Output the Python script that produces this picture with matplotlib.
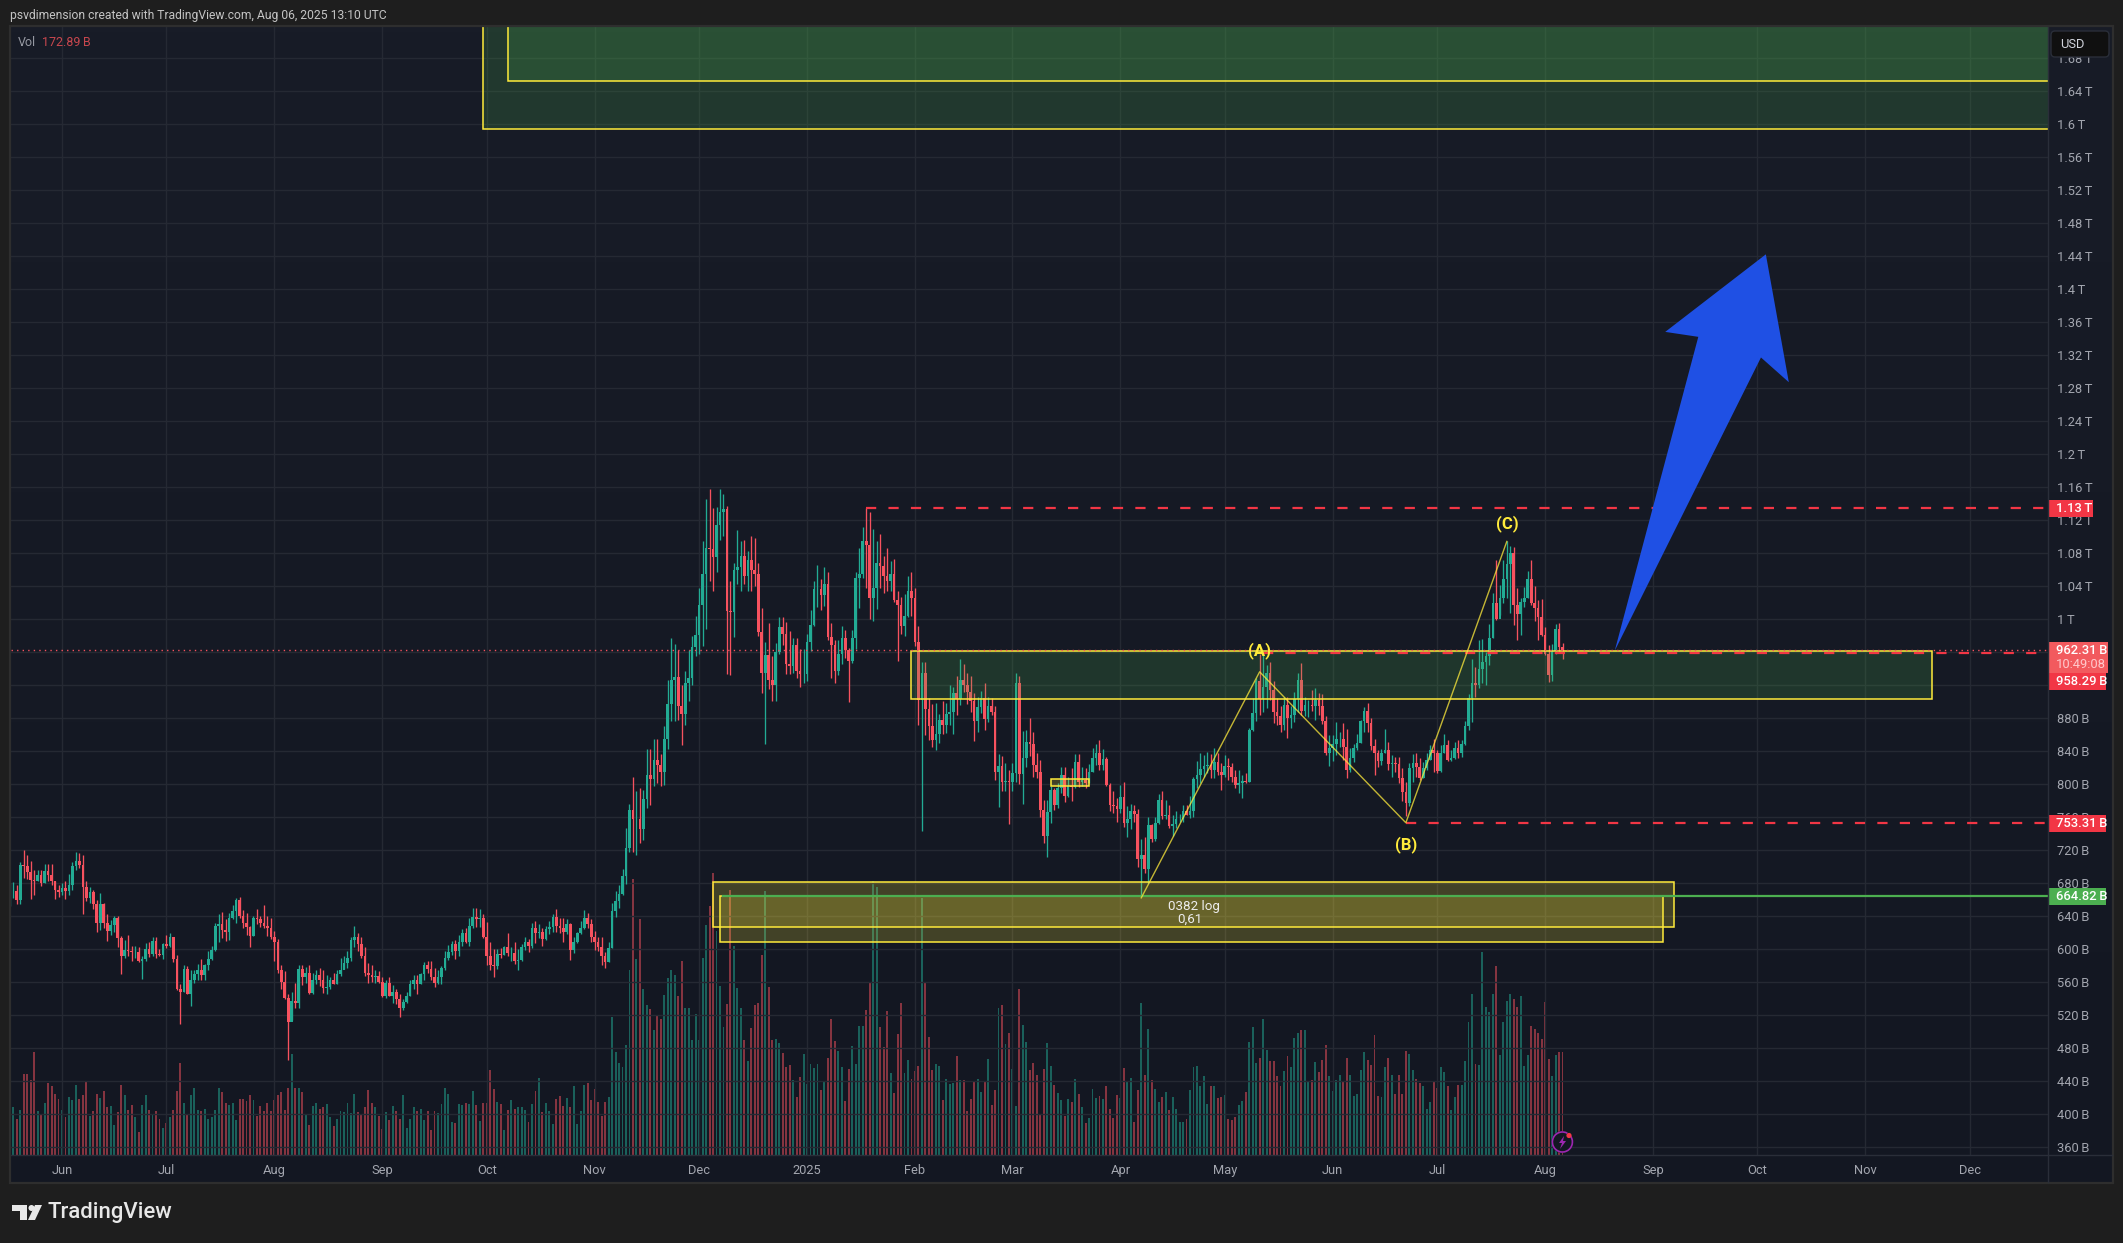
import numpy as np
import matplotlib
matplotlib.use('Agg')
import matplotlib.pyplot as plt
from matplotlib.patches import Rectangle, Polygon, Circle, FancyBboxPatch, Arc

""" ****** Data read from the chart, values in billions USD **** """

closes_1 = [670,670,659,702,701,693,684,682,690,680,
            695,690,683,672,669,674,670,678,700,707,
            702,675,662,669,654,631,654,632,622,629,
            637,613,592,599,597,596,596,586,588,600,
            594,610,594,593,606,604,614,588,551,548,
            576,546,563,570,574,568,580,588,599,628,
            630,623,621,638,646,659,640,631,627,616,
            637,636,632,628,626,614,608,575,560,541,
            511,537,535,576,566,571,547,563,568,562,
            553,554,562,558,570,575,583,589,611,615,
            606,591,571,569,566,567,560,543,559,543,
            548,539,528,536,543,558,563,558,570,580,
            576,566,559,566,577,589,596,606,598,608,
            619,609,628,639,636,638,615,592,581,579,
            594,593,603,595,595,586,587,602,608,604]
highs_1 = [680,681,678,705,720,714,707,696,696,696,
           703,703,703,682,677,680,682,691,705,718,
           716,714,683,675,672,659,668,656,643,635,
           640,640,616,611,617,604,604,603,592,607,
           608,615,615,600,607,617,619,615,593,558,
           581,579,575,575,582,588,582,597,604,631,
           642,645,636,644,653,662,663,647,644,628,
           640,649,640,653,640,638,622,612,581,573,
           546,548,559,581,581,578,581,571,574,577,
           575,569,566,571,575,589,591,597,615,628,
           619,615,603,583,581,574,573,566,562,566,
           556,551,546,539,548,563,568,568,571,584,
           586,585,577,575,579,597,605,610,611,617,
           624,625,638,650,650,649,643,633,608,600,
           600,601,604,619,603,609,600,606,614,612]
lows_1 = [652,662,654,654,686,685,660,665,682,676,
          680,682,678,661,663,666,661,665,672,696,
          698,643,658,656,648,621,623,625,610,617,
          621,603,570,589,591,586,589,584,564,586,
          590,591,589,592,588,601,603,584,550,509,
          548,545,531,559,563,563,562,575,587,597,
          608,613,610,611,636,632,638,625,617,602,
          616,630,627,625,616,612,586,571,552,539,
          465,514,529,529,556,559,546,545,558,555,
          547,545,551,557,557,567,576,577,586,602,
          597,589,567,559,560,559,559,542,541,543,
          534,533,517,526,534,543,551,546,557,563,
          571,563,554,557,557,575,587,593,588,592,
          604,607,604,626,627,627,613,581,575,566,
          576,589,593,591,586,582,575,585,599,596]

closes_2 = [625,619,620,612,624,627,639,628,626,620,
            630,599,609,619,626,638,630,614,608,603,
            592,584,601,646,658,667,689,722,768,757,
            757,745,782,811,806,829,823,814,855,897,
            926,930,894,885,922,928,966,980,1017,1054,
            1086,1085,1075,1114,1130,1133,1010,1009,1059,1063,
            1076,1052,1072,1059,1054,984,935,956,926,920,
            960,990,982,945,943,968,937,933,933,972,
            993,1036,1036,1029,1042,978,968,937,958,977,
            962,949,977,1050,1055,1094,1090,1026,1037,1068,
            1064,1052,1046,1054,1023,1017,991,1004,1034,1025,
            972,902,934,891,870,853,861,877,872,885,
            887,910,903,926,920,911,900,876,893,904,
            879,894,887,814,822,803,804,803,813,922,
            812,832,851,848,823,815,768,737,766]
highs_2 = [631,634,630,625,628,634,643,648,638,638,
           636,631,615,620,634,647,644,636,622,615,
           615,596,609,656,670,678,697,747,776,809,
           791,795,793,842,842,855,855,836,870,926,
           977,970,962,920,937,963,979,1004,1037,1095,
           1146,1157,1135,1136,1158,1152,1137,1046,1068,1108,
           1094,1096,1082,1100,1098,1068,1013,972,995,955,
           971,1002,1002,996,986,977,977,964,964,982,
           1011,1046,1065,1048,1063,1057,995,975,974,992,
           987,965,987,1057,1086,1111,1134,1130,1109,1095,
           1103,1076,1086,1070,1073,1034,1027,1030,1052,1057,
           1037,992,948,948,904,897,898,885,900,898,
           920,918,931,952,945,935,931,910,906,913,
           922,905,904,895,836,834,826,817,826,935,
           931,864,865,880,863,837,829,781,781]
lows_2 = [601,607,613,604,611,618,621,621,619,608,
          618,587,595,607,618,624,625,608,599,598,
          580,577,584,601,639,650,666,679,718,718,
          714,729,732,771,775,798,801,797,799,842,
          876,876,877,847,871,900,920,955,958,967,
          988,1046,1034,1057,1096,1100,933,932,978,1042,
          1034,1042,1034,1034,1040,979,910,848,915,901,
          901,957,969,933,933,935,929,918,923,925,
          961,991,1015,1011,1016,974,929,923,932,945,
          953,899,947,964,1013,1050,1038,1000,997,1012,
          1038,1032,1034,1034,1021,949,982,979,1002,1004,
          967,872,743,859,853,845,841,850,860,862,
          872,861,884,896,912,897,887,852,863,886,
          866,875,884,805,772,791,791,751,791,803,
          800,776,821,834,809,807,760,729,712]

closes_3 = [793,775,795,811,785,797,796,827,803,805,
            801,815,832,837,823,830,799,775,773,770,
            784,753,757,767,764,709,714,697,750,733,
            753,781,761,762,749,751,757,757,767,763,
            767,806,811,818,822,823,817,827,815,811,
            822,821,809,799,801,804,802,865,886,925,
            903,917,934,914,887,883,872,896,880,884,
            903,926,888,896,896,895,902,895,876,838,
            844,849,855,855,845,817,831,844,850,876,
            889,874,846,838,828,838,841,824,825,824,
            807,790,777,819,826,821,807,819,829,841,
            837,816,838,847,829,832,844,838,848,870,
            904,923,920,939,948,955,977,1019,1000,1026,
            1048,1067,1080,1017,1006,1021,1026,1049,1019,1013,
            1002,981,957,932,961,988,966,962.31]
highs_3 = [797,795,801,821,820,809,819,836,836,821,
           819,824,844,848,853,842,833,801,791,783,
           799,803,773,776,775,770,733,736,760,752,
           760,788,792,781,775,763,767,764,775,775,
           785,809,828,837,835,839,836,844,837,825,
           835,832,825,817,817,811,813,868,904,928,
           958,959,944,948,925,904,894,906,906,894,
           912,934,947,906,902,914,916,910,909,882,
           859,859,875,863,874,867,844,848,861,878,
           893,898,880,854,841,843,867,851,835,833,
           833,819,803,825,836,837,832,827,837,847,
           855,841,847,860,853,841,851,853,853,876,
           909,952,942,974,976,960,994,1031,1072,1041,
           1071,1094,1089,1087,1037,1025,1039,1058,1072,1040,
           1023,1024,990,968,970,994,995,971]
lows_3 = [753,769,771,789,778,784,779,795,796,797,
          795,801,814,823,817,817,797,767,765,754,
          765,748,736,746,754,699,665,692,680,730,
          731,752,758,758,747,737,747,754,754,762,
          759,760,795,801,809,813,807,807,811,793,
          809,805,803,795,789,783,801,803,864,876,
          884,887,892,902,874,871,863,866,856,868,
          875,887,884,882,881,888,878,884,873,835,
          822,828,835,845,829,807,815,827,841,850,
          863,863,841,811,820,823,837,817,809,815,
          801,779,761,773,803,809,805,807,817,829,
          815,813,815,837,828,828,830,831,833,847,
          865,875,906,916,922,920,944,977,999,1005,
          1019,1025,1007,993,974,980,1015,1025,1017,997,
          974,979,956,924,925,958,959,951]

first_open = 652

volumes = [80,60,75,136,136,126,172,73,67,88,121,115,103,94,75,64,97,92,117,94,
           101,123,65,73,102,95,107,80,82,50,72,117,101,75,84,64,39,84,101,75,
           69,73,61,45,54,64,75,107,154,87,67,101,113,75,73,77,60,64,75,113,
           106,88,84,88,59,94,94,91,101,92,65,83,73,88,73,93,101,105,75,113,
           169,113,113,106,69,50,83,87,77,81,86,63,49,61,74,72,87,70,102,72,
           67,80,109,88,81,65,44,72,59,82,74,61,100,45,60,80,74,78,59,74,
           42,74,70,86,112,102,56,54,86,84,88,86,107,84,57,88,88,143,111,89,
           86,42,75,92,78,80,81,75,56,86,107,130,72,88,73,52,94,99,82,95,
           81,116,52,74,117,120,92,111,89,66,89,98,231,172,155,148,184,310,463,329,
           396,278,252,245,210,235,228,268,297,310,302,267,325,247,247,193,236,193,
           330,386,418,473,376,283,215,253,444,350,280,247,193,158,213,252,255,335,443,282,
           193,195,188,171,148,151,126,97,131,169,119,153,146,153,109,122,163,228,191,174,
           148,91,144,183,153,216,216,243,290,460,449,215,181,241,138,104,203,255,138,159,
           127,141,149,431,290,198,143,153,149,92,127,119,121,166,126,126,74,94,122,127,
           106,122,161,84,109,247,252,186,205,144,82,278,218,190,143,154,134,69,144,188,
           149,117,104,92,65,94,89,127,102,80,54,62,111,96,99,94,116,77,62,101,
           96,146,122,129,55,109,255,134,211,126,110,89,97,105,75,97,78,56,56,60,
           109,147,149,115,132,86,115,116,95,98,101,60,59,63,84,91,105,190,214,154,
           162,228,177,158,158,132,115,141,166,147,197,205,210,210,124,126,156,140,160,184,
           132,107,126,135,124,162,135,99,103,143,173,160,151,201,99,97,147,162,134,102,
           134,103,174,169,143,127,120,115,78,89,124,113,147,139,116,75,97,117,117,158,
           223,270,153,151,340,248,240,270,317,167,223,258,270,262,248,267,149,168,216,211,
           205,194,257,161,132,168,173,172.89]

month_ticks = ['2024-06-01','2024-07-01','2024-08-01','2024-09-01','2024-10-01','2024-11-01',
               '2024-12-01','2025-01-01','2025-02-01','2025-03-01','2025-04-01','2025-05-01',
               '2025-06-01','2025-07-01','2025-08-01','2025-09-01','2025-10-01','2025-11-01',
               '2025-12-01']
month_labels = ['Jun','Jul','Aug','Sep','Oct','Nov','Dec','2025','Feb','Mar','Apr','May',
                'Jun','Jul','Aug','Sep','Oct','Nov','Dec']
price_ticks = list(range(360, 1720, 40))
hidden_ticks = [920, 960]  # sit fully under the price tags

last_candle = '2025-08-06'

# drawings on the chart
wave_dates = ['2025-04-07','2025-05-11','2025-06-22','2025-07-21']
wave_prices = [662, 936, 753, 1094]
arrow_days = [446, 488, 496, 489.4, 460.5, 470]
arrow_prices = [961.6, 1317, 1287, 1442, 1348, 1342]

""" ****** Colours **** """
UP = '#22AB94'
DOWN = '#F7525F'
YELLOW = '#FFEB3B'
GREEN = '#4CAF50'
RED = '#F23645'
GRID = '#252933'
AXIS_TXT = '#A3A6AF'
W, H = 2123, 1243
GAP = '\u2009'

plt.rcParams['font.family'] = ['Roboto', 'DejaVu Sans']
plt.rcParams['font.size'] = 9.3

def day(s):
    return int((np.datetime64(s) - np.datetime64('2024-06-01')).astype(int))

def tick_text(p):
    if p in hidden_ticks:
        return ''
    if p < 1000:
        return f'{p}{GAP}B'
    return f'{p / 1000:g}{GAP}T'

closes = np.array(closes_1 + closes_2 + closes_3, dtype=float)
highs = np.array(highs_1 + highs_2 + highs_3, dtype=float)
lows = np.array(lows_1 + lows_2 + lows_3, dtype=float)
opens = np.concatenate(([first_open], closes[:-1]))
days = day(last_candle) - len(closes) + 1 + np.arange(len(closes))
is_up = closes >= opens

vol = np.array(volumes, dtype=float)
vol_days = day(last_candle) - len(vol) + 1 + np.arange(len(vol))
vol_up = []
for i in range(len(vol)):
    k = len(closes) - len(vol) + i
    vol_up.append(is_up[k] if k >= 0 else True)
vol_up = np.array(vol_up)

fig = plt.figure(figsize=(W / 100, H / 100), dpi=100, facecolor='#1E1E1E')

# pane position in pixels
left, right, top, bottom = 11, 2047.5, 27.3, 1155
rect = [left / W, (H - bottom) / H, (right - left) / W, (bottom - top) / H]
xlim = (-14.65, 570.3)
ylim = (350.3, 1717.2)

# background gradient
ax_bg = fig.add_axes([left / W, (H - 1182) / H, (2112 - left) / W, (1182 - top) / H], zorder=0)
grad = np.linspace(0, 1, 256)[:, None, None] * (np.array([0x13, 0x17, 0x22]) - np.array([0x18, 0x1C, 0x27])) + np.array([0x18, 0x1C, 0x27])
ax_bg.imshow(grad / 255, aspect='auto')
ax_bg.axis('off')

# volume pane, same box as the price pane
ax_vol = fig.add_axes(rect, zorder=1)
ax_vol.patch.set_visible(False)
ax_vol.set_xlim(xlim)
ax_vol.set_ylim(0, 1892)
ax_vol.axis('off')
ax_vol.bar(vol_days[vol_up], vol[vol_up], width=0.55, color=UP, alpha=0.5, linewidth=0)
ax_vol.bar(vol_days[~vol_up], vol[~vol_up], width=0.55, color=DOWN, alpha=0.5, linewidth=0)

# price pane
ax = fig.add_axes(rect, zorder=2)
ax.patch.set_visible(False)
ax.set_xlim(xlim)
ax.set_ylim(ylim)
for s in ax.spines.values():
    s.set_visible(False)
ax.set_xticks([day(m) for m in month_ticks])
ax.set_xticklabels(month_labels)
ax.set_yticks(price_ticks)
ax.set_yticklabels([tick_text(p) for p in price_ticks])
ax.yaxis.tick_right()
ax.tick_params(axis='both', length=0, labelcolor=AXIS_TXT, labelsize=9.3)
ax.tick_params(axis='y', pad=6.5)
ax.tick_params(axis='x', pad=6.5)
ax.grid(True, color=GRID, linewidth=1, zorder=0)
ax.set_axisbelow(True)

# candles
ax.vlines(days[is_up], lows[is_up], highs[is_up], color=UP, linewidth=0.95, zorder=2)
ax.vlines(days[~is_up], lows[~is_up], highs[~is_up], color=DOWN, linewidth=0.95, zorder=2)
ax.bar(days[is_up], (closes - opens)[is_up], bottom=opens[is_up], width=0.76, color=UP, linewidth=0, zorder=2.1)
ax.bar(days[~is_up], (closes - opens)[~is_up], bottom=opens[~is_up], width=0.76, color=DOWN, linewidth=0, zorder=2.1)

# zones
def zone(start, end, low, high, color):
    ax.add_patch(Rectangle((start, low), end - start, high - low, facecolor=matplotlib.colors.to_rgba(color, 0.2),
                           edgecolor=YELLOW, linewidth=1.1, zorder=3))

zone(day('2024-09-30'), 700, 1594, 1900, GREEN)
zone(day('2024-10-07'), 700, 1652, 1900, GREEN)
zone(day('2025-01-31'), day('2025-11-20'), 902.7, 961.6, GREEN)
zone(day('2025-03-12'), day('2025-03-23'), 797, 806, YELLOW)
zone(day('2024-12-05'), day('2025-09-07'), 626.3, 680.8, YELLOW)
zone(day('2024-12-07'), day('2025-09-04'), 608.2, 664.2, YELLOW)

# price lines
dash = (0, (4.6, 5.5))
ax.plot([day('2025-01-18'), xlim[1]], [1134.5, 1134.5], color=RED, lw=1.6, ls=dash, dash_capstyle='butt', zorder=4)
ax.plot([day('2025-05-12'), xlim[1]], [958.8, 958.8], color=RED, lw=1.6, ls=dash, dash_capstyle='butt', zorder=4)
ax.plot([day('2025-06-22'), xlim[1]], [753.31, 753.31], color=RED, lw=1.6, ls=dash, dash_capstyle='butt', zorder=4)
ax.plot([day('2024-12-08'), xlim[1]], [664.82, 664.82], color=GREEN, lw=1.6, zorder=4)
ax.plot(xlim, [962.31, 962.31], color=DOWN, lw=1, ls=(0, (1, 3)), zorder=4)

# wave lines and labels
ax.plot([day(d) for d in wave_dates], wave_prices, color=YELLOW, lw=1.0, alpha=0.75, zorder=4)
ax.text(day('2025-05-11'), 961.6, '(A)', color=YELLOW, fontsize=12, fontweight='bold', ha='center', va='center', zorder=5)
ax.text(day('2025-06-22'), 727, '(B)', color=YELLOW, fontsize=12, fontweight='bold', ha='center', va='center', zorder=5)
ax.text(day('2025-07-21'), 1116, '(C)', color=YELLOW, fontsize=12, fontweight='bold', ha='center', va='center', zorder=5)
ax.text(day('2025-04-22'), 651.6, '0382 log', color='#EDEDED', fontsize=9.6, ha='center', va='center', zorder=5)
ax.text(day('2025-04-21'), 635.6, '0,61', color='#EDEDED', fontsize=9.6, ha='center', va='center', zorder=5)

# big blue arrow
ax.add_patch(Polygon(np.column_stack((arrow_days, arrow_prices)), closed=True, facecolor='#1F50E4', edgecolor='none', zorder=5))

# chrome drawn in pixel coordinates
top_ax = fig.add_axes([0, 0, 1, 1], zorder=10)
top_ax.patch.set_visible(False)
top_ax.set_xlim(0, W)
top_ax.set_ylim(H, 0)
top_ax.axis('off')

top_ax.plot([right, right], [top, 1182], color='#2A2E39', lw=1)
top_ax.plot([left, 2112], [bottom, bottom], color='#2A2E39', lw=1)
top_ax.add_patch(Rectangle((10, 26), 2103, 1157, facecolor='none', edgecolor='#2E2E2E', lw=1.6))

top_ax.text(10, 15, 'psvdimension created with TradingView.com, Aug 06, 2025 13:10 UTC',
            color='#C4C4C4', fontsize=8.7, va='center')
top_ax.text(18, 42, 'Vol', color='#9598A1', fontsize=9, va='center')
top_ax.text(42, 42, f'172.89{GAP}B', color='#C8474E', fontsize=9, va='center')

# USD box
top_ax.add_patch(FancyBboxPatch((2053, 33), 54, 22, boxstyle='round,pad=2,rounding_size=4',
                                facecolor='#101010', edgecolor='#2A2E39', lw=1))
top_ax.text(2060, 44.5, 'USD', color='#D1D4DC', fontsize=9.3, va='center')

# price labels on the axis
def price_tag(y0, y1, x1, color, txt, txt_color='white'):
    top_ax.add_patch(Rectangle((2048, y0), x1 - 2048, y1 - y0, facecolor=color, edgecolor='none'))
    top_ax.text(2056, (y0 + y1) / 2, txt, color=txt_color, fontsize=9.4, va='center', fontweight='medium')

top_ax.add_patch(Rectangle((2048, 642), 60, 31, facecolor='#F25A5E', edgecolor='none'))
top_ax.text(2056, 650.5, f'962.31{GAP}B', color='white', fontsize=9.4, va='center', fontweight='medium')
top_ax.text(2056, 664.5, '10:49:08', color='#FFC9CC', fontsize=9.4, va='center')
price_tag(673, 690, 2106, RED, f'958.29{GAP}B')
price_tag(815, 832, 2106, RED, f'753.31{GAP}B')
price_tag(500, 517, 2092.5, RED, f'1.13{GAP}T')
price_tag(888, 905, 2106, GREEN, f'664.82{GAP}B')

# lightning mark on the last bar
top_ax.add_patch(Circle((1562.4, 1142), 11, facecolor='#131722', edgecolor='none'))
top_ax.add_patch(Arc((1562.4, 1142), 20, 20, theta1=-40, theta2=300, color='#9C27B0', lw=1.2))
top_ax.add_patch(Polygon([(1564, 1136), (1559, 1143), (1562, 1143), (1560, 1149), (1566, 1141), (1563, 1141)],
                         closed=True, facecolor='#9C27B0', edgecolor='none'))
top_ax.add_patch(Circle((1569, 1135.5), 2.6, facecolor=RED, edgecolor='none'))

# TradingView logo
logo = '#E8E8E8'
top_ax.add_patch(Polygon([(12, 1205), (27, 1205), (27, 1220), (20, 1220), (20, 1211), (12, 1211)], closed=True, facecolor=logo, edgecolor='none'))
top_ax.add_patch(Circle((31.5, 1208), 3, facecolor=logo, edgecolor='none'))
top_ax.add_patch(Polygon([(35, 1205), (42, 1205), (35, 1220), (28, 1220)], closed=True, facecolor=logo, edgecolor='none'))
top_ax.text(48, 1212.5, 'TradingView', color=logo, fontsize=15.9, va='center', fontweight='medium')

plt.savefig('out.png', dpi=100, facecolor=fig.get_facecolor())
